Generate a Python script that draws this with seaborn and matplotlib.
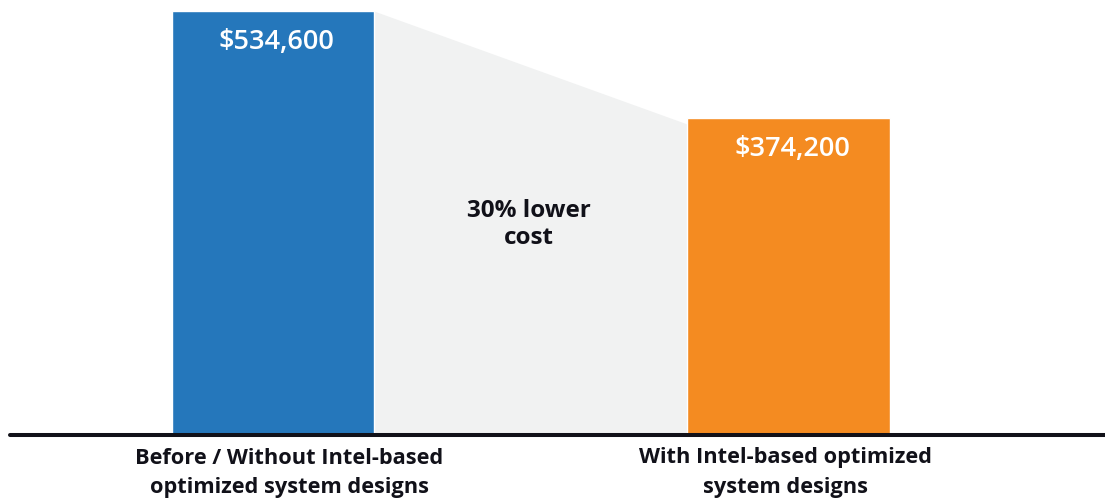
import matplotlib
matplotlib.use("Agg")
import matplotlib.pyplot as plt
import pandas as pd
import seaborn as sns

# values printed on the bars
categories = [
    "Before / Without Intel-based\noptimized system designs",
    "With Intel-based optimized\nsystem designs",
]
costs = [534600, 374200]
# bar heights as drawn in the picture (the chart is not strictly to scale)
drawn_heights = [534600, 399700]
# top edge of the grey "savings" band at the left and right bar edges
band_tops = [534600, 392000]
savings_text = "30% lower\ncost"

bar_colors = ["#2577bb", "#f48b21"]
band_color = "#f1f2f2"
ink = "#111119"

sns.set_theme(style="white")
plt.rcParams["font.family"] = ["Open Sans", "DejaVu Sans"]

df = pd.DataFrame({"category": categories, "height": drawn_heights})

fig = plt.figure(figsize=(11.05, 5), dpi=100)
ax = fig.add_axes([10 / 1105, 65 / 500, 1095 / 1105, 424 / 500])

width = 0.392
sns.barplot(data=df, x="category", y="height", hue="category",
            palette=bar_colors, width=width, saturation=1, legend=False,
            ax=ax, zorder=2)

# grey band between the two bars
ax.fill_between([width / 2, 1 - width / 2], band_tops, 0,
                color=band_color, lw=0, zorder=1)

ax.set_xlim(-0.510, 1.614)
ax.set_ylim(0, drawn_heights[0])
ax.axhline(0, color=ink, lw=2.9, zorder=3, clip_on=False)

for i, (h, c) in enumerate(zip(drawn_heights, costs)):
    ax.annotate(f"${c:,}", xy=(i + 0.007, h), xytext=(0, -22),
                textcoords="offset points", ha="center", va="center",
                color="white", fontsize=19.5, fontweight="semibold")

label_nudge = [12, -2]
for i, lab in enumerate(categories):
    ax.annotate(lab, xy=(i, 0), xytext=(label_nudge[i], -9),
                textcoords="offset points", ha="center", va="top",
                color=ink, fontsize=15.7, fontweight="bold", linespacing=1.5,
                annotation_clip=False)

ax.text(0.474, 0.496, savings_text, transform=ax.transAxes, ha="center",
        va="center", color=ink, fontsize=17.5, fontweight="bold",
        linespacing=1.2)

ax.set_xticks([])
ax.set_yticks([])
ax.set_xlabel("")
ax.set_ylabel("")
sns.despine(ax=ax, left=True, bottom=True)

fig.savefig("out.png", dpi=100)
plt.close(fig)
